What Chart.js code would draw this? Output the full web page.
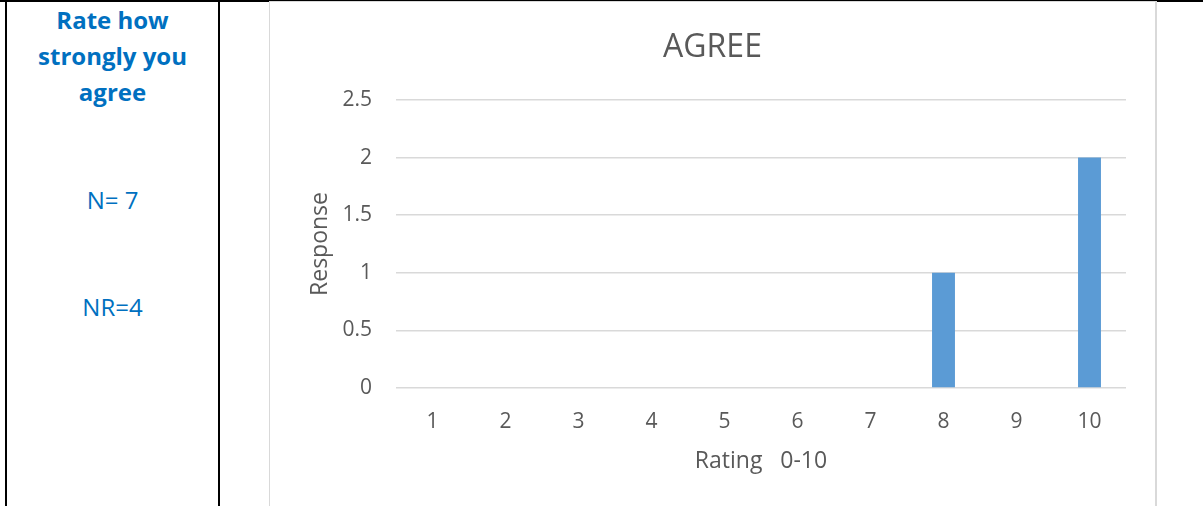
<!DOCTYPE html>
<html>
<head>
<meta charset="utf-8">
<script src="https://cdn.jsdelivr.net/npm/chart.js@4"></script>
<style>
  html, body { margin: 0; padding: 0; background: #fff; width: 1203px; height: 506px; overflow: hidden; }
  .line { position: absolute; background: #000; }
  .label { position: absolute; left: 7px; width: 211px; text-align: center; color: #0070C0;
           font-family: "Open Sans", sans-serif; font-size: 24px; }
  #box { position: absolute; left: 269px; top: 1px; width: 885px; height: 510px;
         border: 1px solid #d9d9d9; border-right-width: 2px; background: #fff; }
  #box canvas { position: absolute; left: 0; top: 0; }
</style>
</head>
<body>
<div class="line" style="left:0;top:0;width:1203px;height:2px"></div>
<div class="line" style="left:5px;top:0;width:2px;height:506px"></div>
<div class="line" style="left:218px;top:0;width:2px;height:506px"></div>

<div class="label" style="top:2px;font-weight:bold;line-height:36px">Rate how<br>strongly you<br>agree</div>
<div class="label" style="top:183px;line-height:34px">N= 7</div>
<div class="label" style="top:290px;line-height:34px">NR=4</div>

<div id="box"><canvas id="agreeChart" width="885" height="504"></canvas></div>

<script>
// chart data
var ratings = ["1", "2", "3", "4", "5", "6", "7", "8", "9", "10"];
var responses = [0, 0, 0, 0, 0, 0, 0, 1, 0, 2];
var yTicks = ["0", "0.5", "1", "1.5", "2", "2.5"];
var yMin = 0, yMax = 2.5, yStep = 0.5;

var grey = "#595959";
var font = "'Open Sans', sans-serif";

var ctx = document.getElementById('agreeChart').getContext('2d');
var agreeChart = new Chart(ctx, {
  type: 'bar',
  data: {
    labels: ratings,
    datasets: [{
      data: responses,
      backgroundColor: "#5B9BD5",
      barPercentage: 0.314,
      categoryPercentage: 1
    }]
  },
  options: {
    responsive: false,
    animation: false,
    layout: { padding: 0 },
    plugins: {
      legend: { display: false },
      tooltip: { enabled: false },
      title: {
        display: true,
        text: 'AGREE',
        color: grey,
        font: { family: font, size: 32, weight: 'normal' },
        padding: { top: 27, bottom: 32.6 }
      }
    },
    scales: {
      x: {
        grid: { display: false },
        border: { display: false },
        ticks: { color: grey, font: { family: font, size: 21 }, padding: 13 },
        title: {
          display: true,
          text: 'Rating   0-10',
          color: grey,
          font: { family: font, size: 23 },
          padding: { top: 0, bottom: 31 }
        },
        afterFit: function(scale) { scale.height = 118; }
      },
      y: {
        min: yMin,
        max: yMax,
        ticks: {
          stepSize: yStep, color: grey, font: { family: font, size: 21 }, padding: 24,
          callback: function(value, index) { return yTicks[index]; }
        },
        grid: { color: "#d9d9d9", lineWidth: 1.5, drawTicks: false },
        border: { display: false },
        title: {
          display: true,
          text: 'Response',
          color: grey,
          font: { family: font, size: 23 },
          padding: { top: 37, bottom: 0 }
        },
        afterFit: function(scale) { scale.width = 126; }
      },
      // empty right-hand space, keeps the title centred on the whole chart
      spacer: {
        axis: 'y',
        position: 'right',
        grid: { display: false },
        border: { display: false },
        ticks: { display: false },
        afterFit: function(scale) { scale.width = 29; }
      }
    }
  }
});
</script>
</body>
</html>
